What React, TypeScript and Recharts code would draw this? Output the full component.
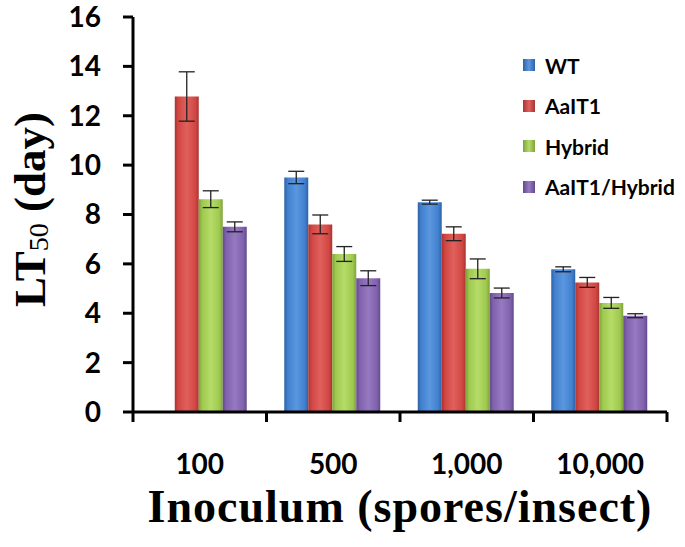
import { BarChart, Bar, XAxis, YAxis, ErrorBar } from 'recharts';

const categories = ['100', '500', '1,000', '10,000'];
const wt = [null, 9.5, 8.5, 5.78];
const wtErr = [null, 0.25, 0.08, 0.1];
const aait1 = [12.78, 7.6, 7.22, 5.25];
const aait1Err = [1.0, 0.38, 0.28, 0.2];
const hybrid = [8.62, 6.4, 5.8, 4.42];
const hybridErr = [0.34, 0.3, 0.4, 0.22];
const combo = [7.5, 5.42, 4.82, 3.9];
const comboErr = [0.2, 0.3, 0.2, 0.08];
const yTicks = [0, 2, 4, 6, 8, 10, 12, 14, 16];

const series = [
  { key: 'wt', name: 'WT', err: 'wtErr', dark: '#2f62a6', base: '#4281cf', light: '#5b97e0' },
  { key: 'aait1', name: 'AaIT1', err: 'aait1Err', dark: '#a93431', base: '#d24744', light: '#e0605c' },
  { key: 'hybrid', name: 'Hybrid', err: 'hybridErr', dark: '#7fa33a', base: '#9fc94f', light: '#b5dc68' },
  { key: 'combo', name: 'AaIT1/Hybrid', err: 'comboErr', dark: '#634a8c', base: '#8062ad', light: '#9779c2' },
];

const data = categories.map((c, i) => ({
  name: c,
  wt: wt[i],
  wtErr: wtErr[i],
  aait1: aait1[i],
  aait1Err: aait1Err[i],
  hybrid: hybrid[i],
  hybridErr: hybridErr[i],
  combo: combo[i],
  comboErr: comboErr[i],
}));

const sans = 'Lato, "Open Sans", sans-serif';
const serif = '"Liberation Serif", "DejaVu Serif", serif';

function XTick(props: any) {
  const { x, y, payload, index, visibleTicksCount } = props;
  const half = payload.offset ?? 0;
  const last = index === (visibleTicksCount ?? categories.length) - 1;
  return (
    <g>
      <line x1={x - half} x2={x - half} y1={y} y2={y + 10} stroke="#000" strokeWidth={3} />
      {last && <line x1={x + half} x2={x + half} y1={y} y2={y + 10} stroke="#000" strokeWidth={3} />}
      <text x={x} y={y + 62} textAnchor="middle" fontFamily={sans} fontWeight={700} fontSize={28} fill="#000">
        {payload.value}
      </text>
    </g>
  );
}

function XTitle(props: any) {
  const { x, y, width } = props.viewBox;
  return (
    <text x={x + width / 2} y={y + 110} textAnchor="middle" fontFamily={serif} fontWeight={700} fontSize={46} letterSpacing={1} fill="#000">
      Inoculum (spores/insect)
    </text>
  );
}

function YTitle(props: any) {
  const { y, height } = props.viewBox;
  const cx = 45;
  const cy = y + height / 2 - 5;
  return (
    <text x={cx} y={cy} transform={`rotate(-90, ${cx}, ${cy})`} textAnchor="middle" fontFamily={serif} fontWeight={700} fontSize={45} fill="#000">
      LT<tspan fontSize={28} fontWeight={400} dy={3}>50</tspan>
      <tspan dy={-3}> (day)</tspan>
    </text>
  );
}

function LegendBox() {
  return (
    <div
      style={{
        position: 'absolute',
        left: 523,
        top: 45,
        fontFamily: sans,
        fontWeight: 700,
        fontSize: 21,
        color: '#000',
      }}
    >
      {series.map((s) => (
        <div key={s.key} style={{ display: 'flex', alignItems: 'center', height: 40.5 }}>
          <span
            style={{
              width: 12,
              height: 12,
              marginRight: 10,
              background: `linear-gradient(to right, ${s.dark}, ${s.light} 50%, ${s.dark})`,
            }}
          />
          <span>{s.name}</span>
        </div>
      ))}
    </div>
  );
}

export default function App() {
  return (
    <div style={{ position: 'absolute', left: 0, top: 0, width: 685, height: 547, background: '#fff' }}>
      <BarChart
        width={685}
        height={547}
        data={data}
        margin={{ top: 17, right: 18, bottom: 0, left: 0 }}
        barCategoryGap="13.3%"
        barGap={0}
      >
        <defs>
          {series.map((s) => (
            <linearGradient key={s.key} id={`grad-${s.key}`} x1="0" y1="0" x2="1" y2="0">
              <stop offset="0%" stopColor={s.dark} />
              <stop offset="15%" stopColor={s.base} />
              <stop offset="50%" stopColor={s.light} />
              <stop offset="85%" stopColor={s.base} />
              <stop offset="100%" stopColor={s.dark} />
            </linearGradient>
          ))}
        </defs>
        <XAxis
          dataKey="name"
          height={135}
          axisLine={{ stroke: '#000', strokeWidth: 3 }}
          tickLine={false}
          tickSize={0}
          tickMargin={0}
          tick={<XTick />}
          interval={0}
          label={<XTitle />}
        />
        <YAxis
          width={133}
          domain={[0, 16]}
          ticks={yTicks}
          interval={0}
          axisLine={{ stroke: '#000', strokeWidth: 3 }}
          tickLine={{ stroke: '#000', strokeWidth: 3 }}
          tickSize={10}
          tickMargin={22}
          tick={{ fill: '#000', fontSize: 28, fontWeight: 700, fontFamily: sans }}
          label={<YTitle />}
        />
        {series.map((s) => (
          <Bar key={s.key} dataKey={s.key} name={s.name} fill={`url(#grad-${s.key})`} isAnimationActive={false}>
            <ErrorBar dataKey={s.err} width={8} stroke="#222" strokeWidth={1.3} />
          </Bar>
        ))}
      </BarChart>
      <LegendBox />
    </div>
  );
}
